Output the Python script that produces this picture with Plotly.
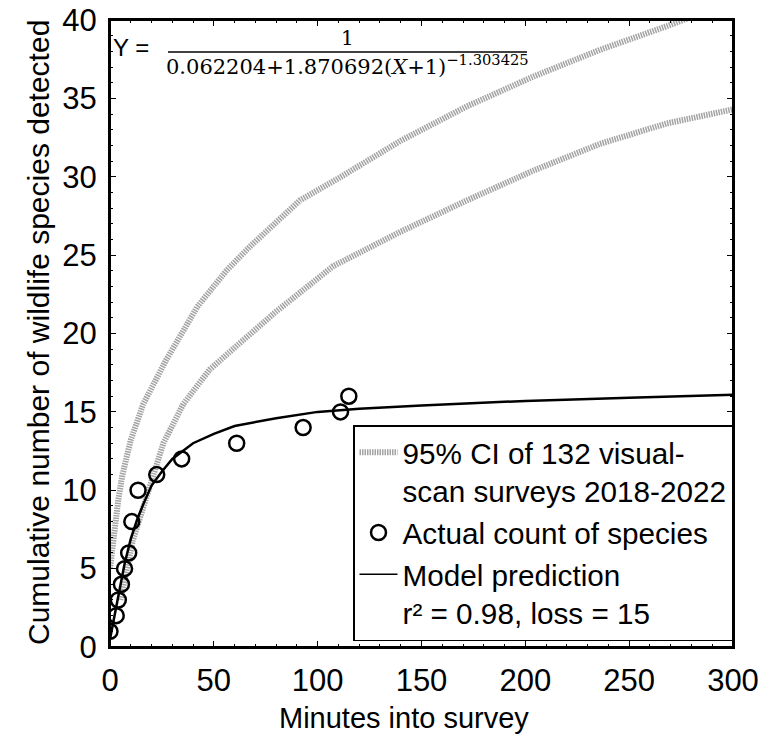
import plotly.graph_objects as go

# ---- data ----
obs_x = [0, 3, 4, 5.5, 7, 9, 10.5, 13.5, 22.5, 34.5, 61, 93, 111, 115]
obs_y = [1, 2, 3, 4, 5, 6, 8, 10, 11, 12, 13, 14, 15, 16]

model_x = [0, 1, 2, 3, 5, 7, 10, 13, 16, 20, 25, 30, 40, 50, 60, 80, 100, 120, 150, 200, 250, 300]
model_y = [0.5, 1.2, 2.0, 2.7, 4.1, 5.3, 6.9, 8.1, 9.1, 10.3, 11.2, 12.0, 13.0, 13.6, 14.1, 14.6,
           15.0, 15.2, 15.4, 15.7, 15.9, 16.1]

ci_up_x = [0, 1, 2, 4, 6, 10, 16, 27, 38.5, 42, 56, 67, 91.5, 110, 140, 172, 204, 236, 268, 281, 300]
ci_up_y = [5.0, 6.2, 7.5, 9.4, 11.0, 13.2, 15.5, 18.3, 20.9, 21.7, 24.0, 25.5, 28.5, 29.9, 32.3,
           34.5, 36.4, 38.1, 39.6, 40.3, 41.2]

ci_lo_x = [5, 8, 11, 16, 19.3, 25.7, 35.3, 48, 62.6, 80, 107.5, 140, 172, 204, 236, 268, 300]
ci_lo_y = [3.0, 5.0, 6.8, 8.9, 10.4, 13.0, 15.5, 17.7, 19.4, 21.4, 24.3, 26.5, 28.5, 30.4, 32.1,
           33.4, 34.3]

x_ticks = [0, 50, 100, 150, 200, 250, 300]
y_ticks = [0, 5, 10, 15, 20, 25, 30, 35, 40]

# ---- geometry (body margin removed by post_script) ----
W, H = 764, 736
L, T = 110, 20
R = 764 - 733
B = 736 - 647
PW, PH = W - L - R, H - T - B


def px(xpage):
    return (xpage - L) / PW


def py(ypage):
    return (H - B - ypage) / PH


FONT = "Liberation Sans, Arial, sans-serif"
CI_COLOR = "#a3a3a3"
CI_DASH = "1.5px,1px"

fig = go.Figure()

fig.add_trace(go.Scatter(
    x=ci_up_x, y=ci_up_y, mode="lines",
    line=dict(color=CI_COLOR, width=6, dash=CI_DASH),
    name="95% CI of 132 visual-<br>scan surveys 2018-2022",
    legendgroup="ci", showlegend=True,
))
fig.add_trace(go.Scatter(
    x=ci_lo_x, y=ci_lo_y, mode="lines",
    line=dict(color=CI_COLOR, width=6, dash=CI_DASH),
    name="ci_low", legendgroup="ci", showlegend=False,
))
fig.add_trace(go.Scatter(
    x=model_x, y=model_y, mode="lines",
    line=dict(color="black", width=2.5),
    name="model_curve", showlegend=False,
))
fig.add_trace(go.Scatter(
    x=obs_x, y=obs_y, mode="markers",
    marker=dict(symbol="circle-open", size=15, color="black", line=dict(width=2.5, color="black")),
    name="Actual count of species",
))
fig.add_trace(go.Scatter(
    x=[None], y=[None], mode="lines",
    line=dict(color="black", width=1.5),
    name="Model prediction<br>r² = 0.98, loss = 15",
))

axis_common = dict(
    showline=True, linecolor="black", linewidth=2, mirror="allticks",
    ticks="inside", ticklen=6, tickwidth=1.2, tickcolor="black",
    showgrid=False, zeroline=False, automargin=False, ticklabeloverflow="allow",
    tickfont=dict(family=FONT, size=31, color="black"),
)

fig.update_xaxes(range=[0, 300], tickvals=x_ticks, ticklabelstandoff=5,
                 minor=dict(dtick=10, ticks="inside", ticklen=3, tickcolor="black"),
                 **axis_common)
fig.update_yaxes(range=[0, 40], tickvals=y_ticks, ticklabelstandoff=5,
                 minor=dict(dtick=1, ticks="inside", ticklen=3, tickcolor="black"),
                 **axis_common)

annotations = [
    dict(text="Minutes into survey", x=px(404), y=py(718), xref="paper", yref="paper",
         showarrow=False, font=dict(family=FONT, size=29, color="black"),
         xanchor="center", yanchor="middle"),
    dict(text="Cumulative number of wildlife species detected", x=px(38), y=py(333),
         xref="paper", yref="paper", showarrow=False, textangle=-90,
         font=dict(family=FONT, size=30, color="black"), xanchor="center", yanchor="middle"),
    # equation
    dict(text="Y =", x=px(111), y=py(47), xref="paper", yref="paper", showarrow=False,
         font=dict(family=FONT, size=24, color="black"), xanchor="left", yanchor="middle"),
    dict(text="1", x=px(347), y=py(38), xref="paper", yref="paper", showarrow=False,
         font=dict(family="DejaVu Serif", size=20, color="black"), xanchor="center", yanchor="middle"),
    dict(text="0.062204+1.870692(<i>X</i>+1)<sup>−1.303425</sup>", x=px(347), y=py(65),
         xref="paper", yref="paper", showarrow=False,
         font=dict(family="DejaVu Serif", size=21, color="black"), xanchor="center", yanchor="middle"),
]

shapes = [
    # fraction bar
    dict(type="line", xref="paper", yref="paper", x0=px(168), x1=px(527), y0=py(52), y1=py(52),
         line=dict(color="black", width=1.5)),
    # plot frame
    dict(type="rect", xref="paper", yref="paper", x0=0, x1=1, y0=0, y1=1,
         line=dict(color="black", width=2), fillcolor="rgba(0,0,0,0)", layer="above"),
]

fig.update_layout(
    width=W, height=H,
    margin=dict(l=L, r=R, t=T, b=B, autoexpand=False),
    paper_bgcolor="white", plot_bgcolor="white",
    showlegend=True,
    legend=dict(
        x=1, y=py(641), xanchor="right", yanchor="bottom",
        bgcolor="white", bordercolor="black", borderwidth=1.5,
        font=dict(family=FONT, size=29.7, color="black"),
        itemwidth=38, tracegroupgap=0, valign="top",
    ),
    annotations=annotations,
    shapes=shapes,
)

fig.write_html("out.html", config={"displayModeBar": False},
               post_script="document.body.style.margin='0px';")
